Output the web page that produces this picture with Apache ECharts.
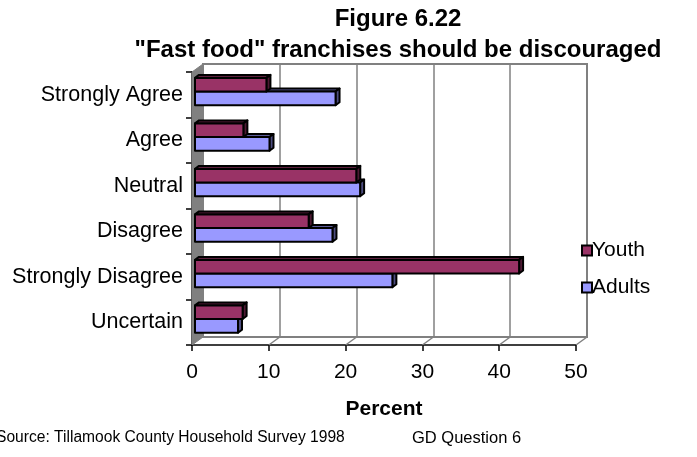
<!DOCTYPE html>
<html>
<head>
<meta charset="utf-8">
<script src="https://cdn.jsdelivr.net/npm/echarts@6/dist/echarts.min.js"></script>
<style>html,body{margin:0;padding:0;background:#fff}#c{width:697px;height:457px}</style>
</head>
<body>
<div id="c"></div>
<script>
const categories = ['Strongly Agree', 'Agree', 'Neutral', 'Disagree', 'Strongly Disagree', 'Uncertain'];
const youth = [9.3, 6.3, 21.0, 14.8, 42.2, 6.2];
const adults = [18.3, 9.7, 21.5, 17.9, 25.7, 5.6];
const xMin = 0, xMax = 50, xStep = 10;
const titleText = 'Figure 6.22\n"Fast food" franchises should be discouraged';
const sourceText = 'Source: Tillamook County Household Survey 1998';
const questionText = 'GD Question 6';

const FONT = '"Liberation Sans", Arial, sans-serif';
const W = 697, H = 457;
const G = {left: 192, right: 121, top: 72, bottom: 112};
const DX = 11, DY = -8;           // wall depth
const BDX = 4, BDY = -3;           // bar depth
const BOFF = 3;                    // bar offset into depth

function shade(hex, f) {
  const n = parseInt(hex.slice(1), 16);
  const r = Math.round(((n >> 16) & 255) * f), g = Math.round(((n >> 8) & 255) * f), b = Math.round((n & 255) * f);
  return 'rgb(' + r + ',' + g + ',' + b + ')';
}

function makeRender(color, topFrac) {
  return function (params, api) {
    const v = api.value(0), ci = api.value(1);
    const p0 = api.coord([0, ci]);
    const p1 = api.coord([v, ci]);
    const band = api.size([0, 1])[1];
    const x0 = p0[0] + BOFF, x1 = p1[0] + BOFF;
    const y0 = p0[1] + topFrac * band;
    const y1 = y0 + 0.3 * band;
    const line = {stroke: '#000', lineWidth: 2, lineJoin: 'round'};
    return {
      type: 'group',
      children: [
        {type: 'polygon', shape: {points: [[x0, y0], [x0 + BDX, y0 + BDY], [x1 + BDX, y0 + BDY], [x1, y0]]},
          style: Object.assign({fill: shade(color, 0.6)}, line)},
        {type: 'polygon', shape: {points: [[x1, y0], [x1 + BDX, y0 + BDY], [x1 + BDX, y1 + BDY], [x1, y1]]},
          style: Object.assign({fill: shade(color, 0.5)}, line)},
        {type: 'rect', shape: {x: x0, y: y0, width: x1 - x0, height: y1 - y0},
          style: Object.assign({fill: color}, line)}
      ]
    };
  };
}

const chart = echarts.init(document.getElementById('c'), null, {renderer: 'canvas'});
const option = {
  animation: false,
  backgroundColor: '#fff',
  textStyle: {fontFamily: FONT},
  title: {
    text: titleText, left: 393, top: -1.5, textAlign: 'center',
    textStyle: {fontFamily: FONT, fontWeight: 'bold', fontSize: 24, lineHeight: 31, color: '#000'}
  },
  legend: {
    orient: 'vertical', left: 581, top: 239, padding: 0, itemWidth: 10, itemHeight: 10, itemGap: 14,
    data: ['Youth', 'Adults'],
    icon: 'rect',
    textStyle: {fontFamily: FONT, fontSize: 21, color: '#000', lineHeight: 23, padding: [0, 0, 0, -5]}
  },
  grid: [
    {left: G.left, right: G.right, top: G.top, bottom: G.bottom, show: false},
    {left: G.left + DX, right: G.right - DX, top: G.top + DY, bottom: G.bottom - DY, show: true,
      backgroundColor: '#fff', borderColor: '#808080', borderWidth: 2, z: -1}
  ],
  xAxis: [
    {gridIndex: 0, type: 'value', min: xMin, max: xMax, interval: xStep,
      name: 'Percent', nameLocation: 'middle', nameGap: 54,
      nameTextStyle: {fontFamily: FONT, fontWeight: 'bold', fontSize: 21, color: '#000'},
      axisLine: {show: true, lineStyle: {color: '#000', width: 1.5}},
      axisTick: {show: true, length: 6, lineStyle: {color: '#000', width: 1.5}},
      axisLabel: {fontFamily: FONT, fontSize: 21, color: '#000', margin: 17},
      splitLine: {show: false}},
    {gridIndex: 1, type: 'value', min: xMin, max: xMax, interval: xStep,
      axisLine: {show: false}, axisTick: {show: false}, axisLabel: {show: false},
      splitLine: {show: true, lineStyle: {color: '#808080', width: 1.5}}}
  ],
  yAxis: [
    {gridIndex: 0, type: 'category', data: categories, inverse: true,
      axisLine: {show: true, lineStyle: {color: '#000', width: 1.5}},
      axisTick: {show: true, length: 6, lineStyle: {color: '#000', width: 1.5}},
      axisLabel: {fontFamily: FONT, fontSize: 21.5, color: '#000', margin: 9},
      splitLine: {show: false}},
    {gridIndex: 1, type: 'value', show: false, splitLine: {show: false}}
  ],
  series: [
    {name: 'Adults', type: 'custom', xAxisIndex: 0, yAxisIndex: 0, z: 3,
      itemStyle: {color: '#9999ff', borderColor: '#000', borderWidth: 2},
      renderItem: makeRender('#9999ff', -0.07),
      encode: {x: 0, y: 1},
      data: adults.map((v, i) => [v, i])},
    {name: 'Youth', type: 'custom', xAxisIndex: 0, yAxisIndex: 0, z: 4,
      itemStyle: {color: '#993366', borderColor: '#000', borderWidth: 2},
      renderItem: makeRender('#993366', -0.37),
      encode: {x: 0, y: 1},
      data: youth.map((v, i) => [v, i])}
  ]
};
chart.setOption(option);

// frame: left wall and floor depth lines, placed from the axes' own scales
const yTop = G.top, yBot = H - G.bottom;
const frontX = v => chart.convertToPixel({xAxisIndex: 0}, v);
const backX = v => chart.convertToPixel({xAxisIndex: 1}, v);
const gfx = [];
const x0 = frontX(xMin), bx0 = backX(xMin);
gfx.push({type: 'polygon', z: 1, silent: true,
  shape: {points: [[x0, yTop], [bx0, yTop + DY], [bx0, yBot + DY], [x0, yBot]]},
  style: {fill: '#808080', stroke: '#808080', lineWidth: 1}});
for (let v = xMin + xStep; v <= xMax; v += xStep) {
  gfx.push({type: 'line', z: 1, silent: true,
    shape: {x1: frontX(v), y1: yBot, x2: backX(v), y2: yBot + DY},
    style: {stroke: '#808080', lineWidth: 1.5}});
}
gfx.push({type: 'text', left: -4, top: 430, silent: true,
  style: {text: sourceText, font: '15.6px ' + FONT, fill: '#000'}});
gfx.push({type: 'text', left: 412, top: 430, silent: true,
  style: {text: questionText, font: '16.5px ' + FONT, fill: '#000'}});
chart.setOption({graphic: gfx});
</script>
</body>
</html>
